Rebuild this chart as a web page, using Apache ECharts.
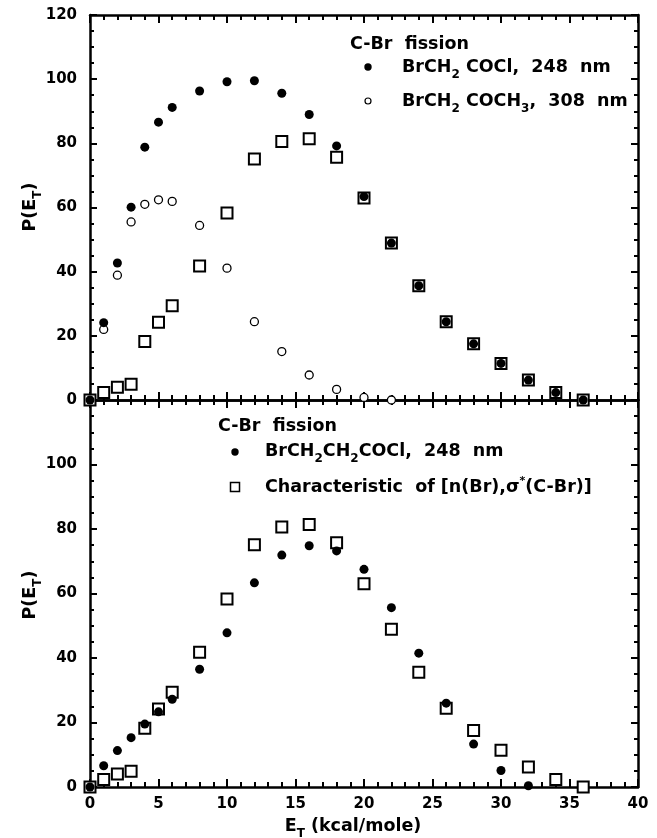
<!DOCTYPE html>
<html>
<head>
<meta charset="utf-8">
<script src="https://cdn.jsdelivr.net/npm/echarts@6/dist/echarts.min.js"></script>
<style>html,body{margin:0;padding:0;background:#fff;}#c{width:657px;height:838px;}</style>
</head>
<body>
<div id="c"></div>
<script>
// ---- data ----
const xTicks = [0, 5, 10, 15, 20, 25, 30, 35, 40];
const yTicks = [0, 20, 40, 60, 80, 100, 120];

// top panel: BrCH2COCl, 248 nm (filled circles)
const topFilledX = [0, 1, 2, 3, 4, 5, 6, 8, 10, 12, 14, 16, 18, 20, 22, 24, 26, 28, 30, 32, 34, 36];
const topFilledY = [0, 24.1, 42.7, 60.1, 78.8, 86.6, 91.2, 96.3, 99.2, 99.5, 95.6, 89, 79.2, 63.4, 48.9, 35.6, 24.4, 17.5, 11.4, 6.2, 2.3, 0];

// top panel: BrCH2COCH3, 308 nm (open circles)
const topOpenX = [1, 2, 3, 4, 5, 6, 8, 10, 12, 14, 16, 18, 20, 22];
const topOpenY = [22, 38.9, 55.5, 61, 62.4, 61.9, 54.4, 41.1, 24.4, 15.1, 7.8, 3.3, 0.8, 0];

// characteristic [n(Br),sigma*(C-Br)] distribution (open squares, both panels)
const charX = [0, 1, 2, 3, 4, 5, 6, 8, 10, 12, 14, 16, 18, 20, 22, 24, 26, 28, 30, 32, 34, 36];
const charY = [0, 2.3, 4, 4.9, 18.2, 24.2, 29.4, 41.8, 58.3, 75.1, 80.6, 81.4, 75.7, 63, 48.9, 35.6, 24.4, 17.5, 11.4, 6.2, 2.3, 0];

// bottom panel: BrCH2CH2COCl, 248 nm (filled circles)
const botFilledX = [0, 1, 2, 3, 4, 5, 6, 8, 10, 12, 14, 16, 18, 20, 22, 24, 26, 28, 30, 32];
const botFilledY = [0, 6.6, 11.3, 15.3, 19.5, 23.3, 27.2, 36.5, 47.8, 63.3, 71.9, 74.8, 73.2, 67.5, 55.6, 41.5, 26, 13.3, 5.1, 0.4];

const pair = (xs, ys) => xs.map((x, i) => [x, ys[i]]);

const FONT = 'DejaVu Sans';
const chart = echarts.init(document.getElementById('c'), null, {renderer: 'canvas'});

function xAxis(grid, pos, labels) {
  return {
    type: 'value', gridIndex: grid, position: pos, min: xTicks[0], max: xTicks[xTicks.length - 1], interval: 5,
    axisLine: {show: true, onZero: false, lineStyle: {color: '#000', width: 2.5}},
    axisTick: {show: true, inside: true, length: 8, lineStyle: {color: '#000', width: 2}},
    minorTick: {show: true, splitNumber: 5, length: 5, lineStyle: {color: '#000', width: 2}},
    splitLine: {show: false}, minorSplitLine: {show: false},
    axisLabel: {show: labels, color: '#000', fontFamily: FONT, fontWeight: 'bold', fontSize: 15, margin: 10}
  };
}
function yAxis(grid, pos, labels, hideTop) {
  return {
    type: 'value', gridIndex: grid, position: pos, min: yTicks[0], max: yTicks[yTicks.length - 1], interval: 20,
    axisLine: {show: true, onZero: false, lineStyle: {color: '#000', width: 2.5}},
    axisTick: {show: true, inside: true, length: 7, lineStyle: {color: '#000', width: 2}},
    minorTick: {show: true, splitNumber: 4, length: 4, lineStyle: {color: '#000', width: 2}},
    splitLine: {show: false}, minorSplitLine: {show: false},
    axisLabel: {show: labels, color: '#000', fontFamily: FONT, fontWeight: 'bold', fontSize: 15, margin: 13,
      formatter: v => (hideTop && v === 120) ? '' : String(v)}
  };
}

const main = {fontFamily: FONT, fontWeight: 'bold', fontSize: 17.5, lineHeight: 26, fill: '#000'};
const sub = {fontFamily: FONT, fontWeight: 'bold', fontSize: 12, lineHeight: 26, padding: [16, 0, 0, 0], fill: '#000'};
const sup = {fontFamily: FONT, fontWeight: 'bold', fontSize: 11, lineHeight: 26, padding: [0, 0, 12, 0], fill: '#000'};
const richStyle = {m: main, s: sub, p: sup};

function txt(x, y, text, align, rot) {
  const el = {
    type: 'text', x: x, y: y, z: 100,
    style: {text: text, rich: richStyle, fill: '#000', align: align || 'left', verticalAlign: 'middle'}
  };
  if (rot) el.rotation = rot;
  return el;
}

const scatterBase = {type: 'scatter', clip: false, emphasis: {disabled: true}};
const filled = {color: '#000', opacity: 1};
const openSq = {color: '#fff', borderColor: '#000', borderWidth: 2, opacity: 1};
const openCi = {color: '#fff', borderColor: '#000', borderWidth: 1.3, opacity: 1};

const option = {
  backgroundColor: '#fff',
  animation: false,
  grid: [
    {left: 90, top: 15, width: 548, height: 385, containLabel: false},
    {left: 90, top: 400, width: 548, height: 387, containLabel: false}
  ],
  xAxis: [xAxis(0, 'bottom', false), xAxis(0, 'top', false), xAxis(1, 'bottom', true), xAxis(1, 'top', false)],
  yAxis: [yAxis(0, 'left', true, false), yAxis(0, 'right', false, false), yAxis(1, 'left', true, true), yAxis(1, 'right', false, false)],
  series: [
    Object.assign({}, scatterBase, {name: 'Characteristic (top)', xAxisIndex: 0, yAxisIndex: 0, data: pair(charX, charY),
      symbol: 'rect', symbolSize: 11, z: 2, itemStyle: openSq}),
    Object.assign({}, scatterBase, {name: 'BrCH2COCH3, 308 nm', xAxisIndex: 0, yAxisIndex: 0, data: pair(topOpenX, topOpenY),
      symbol: 'circle', symbolSize: 8, z: 3, itemStyle: openCi}),
    Object.assign({}, scatterBase, {name: 'BrCH2COCl, 248 nm', xAxisIndex: 0, yAxisIndex: 0, data: pair(topFilledX, topFilledY),
      symbol: 'circle', symbolSize: 9, z: 4, itemStyle: filled}),
    Object.assign({}, scatterBase, {name: 'Characteristic of [n(Br),σ*(C-Br)]', xAxisIndex: 2, yAxisIndex: 2, data: pair(charX, charY),
      symbol: 'rect', symbolSize: 11, z: 2, itemStyle: openSq}),
    Object.assign({}, scatterBase, {name: 'BrCH2CH2COCl, 248 nm', xAxisIndex: 2, yAxisIndex: 2, data: pair(botFilledX, botFilledY),
      symbol: 'circle', symbolSize: 9, z: 4, itemStyle: filled})
  ],
  graphic: [
    // top legend
    txt(350, 44, '{m|C-Br  fission}'),
    {type: 'circle', shape: {cx: 368, cy: 67, r: 3.7}, style: {fill: '#000'}, z: 100},
    txt(402, 67, '{m|BrCH}{s|2}{m| COCl,  248  nm}'),
    {type: 'circle', shape: {cx: 368, cy: 101, r: 3}, style: {fill: '#fff', stroke: '#000', lineWidth: 1.2}, z: 100},
    txt(402, 101, '{m|BrCH}{s|2}{m| COCH}{s|3}{m|,  308  nm}'),
    // bottom legend
    txt(218, 426, '{m|C-Br  fission}'),
    {type: 'circle', shape: {cx: 235, cy: 452, r: 3.7}, style: {fill: '#000'}, z: 100},
    txt(265, 451, '{m|BrCH}{s|2}{m|CH}{s|2}{m|COCl,  248  nm}'),
    {type: 'rect', shape: {x: 230.5, y: 482.5, width: 9, height: 9}, style: {fill: '#fff', stroke: '#000', lineWidth: 1.5}, z: 100},
    txt(265, 487, '{m|Characteristic  of [n(Br),σ}{p|*}{m|(C-Br)]}'),
    // axis titles
    txt(30, 207, '{m|P(E}{s|T}{m|)}', 'center', Math.PI / 2),
    txt(30, 595, '{m|P(E}{s|T}{m|)}', 'center', Math.PI / 2),
    txt(353, 826, '{m|E}{s|T}{m| (kcal/mole)}', 'center')
  ]
};
chart.setOption(option);
</script>
</body>
</html>
